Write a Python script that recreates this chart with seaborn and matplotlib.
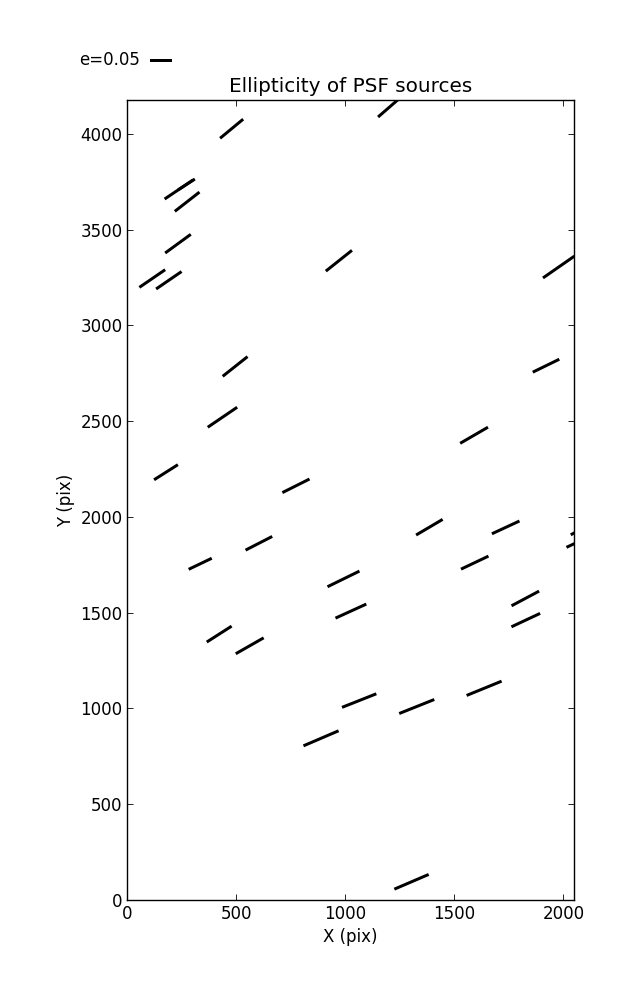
import numpy as np
import matplotlib
matplotlib.use("Agg")
import matplotlib.pyplot as plt
import seaborn as sns

# PSF source positions (pix), ellipticity and position angle (deg)
x_pos = [478, 236, 274, 271, 232, 114, 190, 970, 1203, 1978,
         494, 436, 177, 773, 1920, 1590, 334, 603, 991, 1025,
         421, 561, 1385, 1735, 1593, 1825, 1827, 2076, 2094,
         1063, 888, 1327, 1636, 1303]
y_pos = [4026, 3709, 3645, 3735, 3426, 3244, 3235, 3337, 4140, 3304,
         2785, 2520, 2233, 2162, 2789, 2426, 1755, 1862, 1676, 1508,
         1388, 1327, 1946, 1945, 1761, 1574, 1461, 1874, 1943,
         1041, 844, 1010, 1105, 95]
ellip = [0.069, 0.079, 0.072, 0.046, 0.073, 0.072, 0.071, 0.077, 0.071, 0.088,
         0.073, 0.082, 0.065, 0.070, 0.068, 0.074, 0.059, 0.069, 0.082, 0.078,
         0.068, 0.074, 0.071, 0.070, 0.070, 0.072, 0.073, 0.069, 0.069,
         0.085, 0.088, 0.087, 0.087, 0.086]
pa_deg = [39.6, 33.9, 38.0, 33.0, 36.1, 34.4, 34.4, 38.5, 41.0, 34.8,
          38.4, 34.2, 32.4, 26.6, 26.0, 30.1, 25.6, 27.2, 26.1, 24.5,
          32.6, 29.7, 30.5, 24.9, 25.4, 28.0, 25.1, 25.0, 28.0,
          21.6, 23.2, 21.8, 22.2, 23.2]
key_e = 0.05

sns.set_theme(style="ticks", rc={
    "xtick.direction": "in", "ytick.direction": "in",
    "xtick.top": True, "ytick.right": True,
    "xtick.major.size": 4, "ytick.major.size": 4,
    "xtick.major.width": 0.6, "ytick.major.width": 0.6,
    "axes.linewidth": 1.0, "axes.edgecolor": "black",
    "font.size": 12, "axes.titlesize": 14.4, "axes.labelsize": 12,
    "xtick.labelsize": 12, "ytick.labelsize": 12,
    "xtick.color": "black", "ytick.color": "black",
    "axes.labelcolor": "black", "text.color": "black",
})
plt.rcParams["font.family"] = ["DejaVu Sans"]

fig = plt.figure(figsize=(6.37, 10), dpi=100)
ax = fig.add_axes([0.2, 0.1, 0.701, 0.8])

theta = np.deg2rad(pa_deg)
e = np.array(ellip)
u = e * np.cos(theta)
v = e * np.sin(theta)

q = ax.quiver(x_pos, y_pos, u, v, pivot="middle", angles="uv",
              headwidth=0, headlength=0, headaxislength=0,
              scale_units="inches", scale=0.2304,
              units="inches", width=0.03, color="black")
ax.quiverkey(q, 0.235, 0.94, key_e, f"e={key_e}", labelpos="W",
             coordinates="figure", fontproperties={"size": 12})

ax.set_xlim(0, 2048)
ax.set_ylim(0, 4176)
ax.set_xticks([0, 500, 1000, 1500, 2000])
ax.set_yticks([0, 500, 1000, 1500, 2000, 2500, 3000, 3500, 4000])
ax.set_xlabel("X (pix)")
ax.set_ylabel("Y (pix)")
ax.set_title("Ellipticity of PSF sources")

fig.savefig("out.png", dpi=100)
